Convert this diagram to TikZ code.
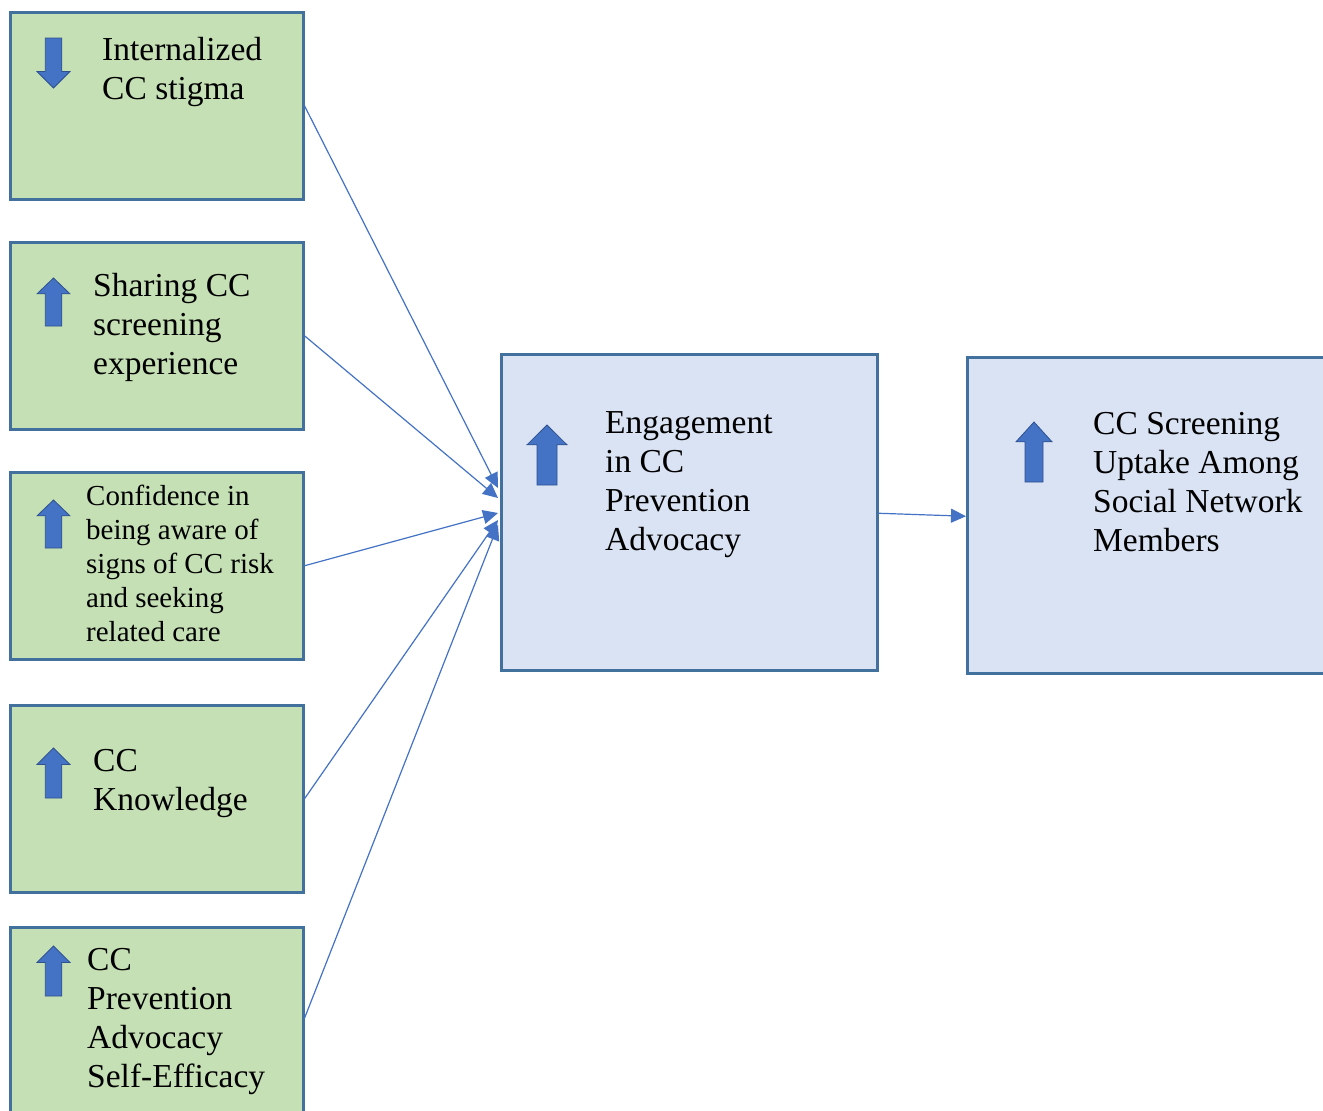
\documentclass[tikz,border=0pt]{standalone}
\usepackage{fontspec}
\setmainfont{Liberation Serif}
\usetikzlibrary{arrows.meta}
\definecolor{gfill}{HTML}{C5E0B4}
\definecolor{bfill}{HTML}{DAE3F3}
\definecolor{bord}{HTML}{41719C}
\definecolor{arr}{HTML}{4472C4}
\definecolor{arrd}{HTML}{2F528F}
\tikzset{
  gbox/.style={draw=bord, fill=gfill, line width=2.5pt, anchor=north west, inner sep=0pt, minimum width=293pt, minimum height=187pt},
  bbox/.style={draw=bord, fill=bfill, line width=2.5pt, anchor=north west, inner sep=0pt, minimum width=376pt, minimum height=316pt},
  lbl/.style={anchor=base west, inner sep=0pt, align=left, font=\fontsize{33.5}{39}\selectfont},
  lblsmall/.style={anchor=base west, inner sep=0pt, align=left, font=\fontsize{29}{34}\selectfont},
  conn/.style={draw=arr, line width=1.2pt, -{Triangle[length=15pt,width=14pt]}},
  icon/.style={fill=arr, draw=arrd, line width=0.8pt},
}
% up arrow icon: left x, top y, width, height
\newcommand\iconup[4]{%
  \path[icon] ({#1+#3/2},#2) -- ({#1+#3},{#2+0.33*#4}) -- ({#1+0.75*#3},{#2+0.33*#4}) -- ({#1+0.75*#3},{#2+#4}) -- ({#1+0.25*#3},{#2+#4}) -- ({#1+0.25*#3},{#2+0.33*#4}) -- (#1,{#2+0.33*#4}) -- cycle;}
\newcommand\icondown[4]{%
  \path[icon] ({#1+#3/2},{#2+#4}) -- ({#1+#3},{#2+0.67*#4}) -- ({#1+0.75*#3},{#2+0.67*#4}) -- ({#1+0.75*#3},#2) -- ({#1+0.25*#3},#2) -- ({#1+0.25*#3},{#2+0.67*#4}) -- (#1,{#2+0.67*#4}) -- cycle;}
\begin{document}
\begin{tikzpicture}[x=1pt,y=-1pt]
\useasboundingbox (0,0) rectangle (1323,1111);
\clip (0,0) rectangle (1323,1111);
\fill[white] (0,0) rectangle (1323,1111);
% boxes
\node[gbox] (b1) at (9,11) {};
\node[gbox] (b2) at (9,241) {};
\node[gbox] (b3) at (9,471) {};
\node[gbox] (b4) at (9,704) {};
\node[gbox, minimum height=200pt] (b5) at (9,926) {};
\node[bbox] (eng) at (500,353) {};
\node[bbox, minimum width=380pt] (up) at (966,356) {};
% texts (anchor = baseline of last line)
\node[lbl] (t1) at (102,99) {Internalized\\CC stigma};
\node[lbl] (t2) at (93,374) {Sharing CC\\screening\\experience};
\node[lblsmall] (t3) at (86,641) {Confidence in\\being aware of\\signs of CC risk\\and seeking\\related care};
\node[lbl] (t4) at (93,810) {CC\\Knowledge};
\node[lbl] (t5) at (87,1087) {CC\\Prevention\\Advocacy\\Self-Efficacy};
\node[lbl] (te) at (605,550) {Engagement\\in CC\\Prevention\\Advocacy};
\node[lbl] (tu) at (1093,551) {CC Screening\\Uptake Among\\Social Network\\Members};
% icons
\icondown{37}{38}{33}{50}
\iconup{37}{278}{33}{48}
\iconup{37}{500}{33}{48}
\iconup{37}{748}{33}{50}
\iconup{37}{946}{33}{50}
\iconup{527}{425}{40}{60}
\iconup{1016}{422}{36}{60}
% connectors
\coordinate (i1) at (498,488);
\coordinate (i2) at (498,498);
\coordinate (i3) at (498,513);
\coordinate (i4) at (498,520);
\coordinate (i5) at (498,525);
\draw[conn] (b1.east) -- (i1);
\draw[conn] (b2.east) -- (i2);
\draw[conn] (b3.east) -- (i3);
\draw[conn] (b4.east) -- (i4);
\draw[conn] ([yshift=9pt]b5.east) -- (i5);
\draw[conn] ([yshift=-1pt]eng.east) -- ([yshift=-1pt]up.west);
\end{tikzpicture}
\end{document}
